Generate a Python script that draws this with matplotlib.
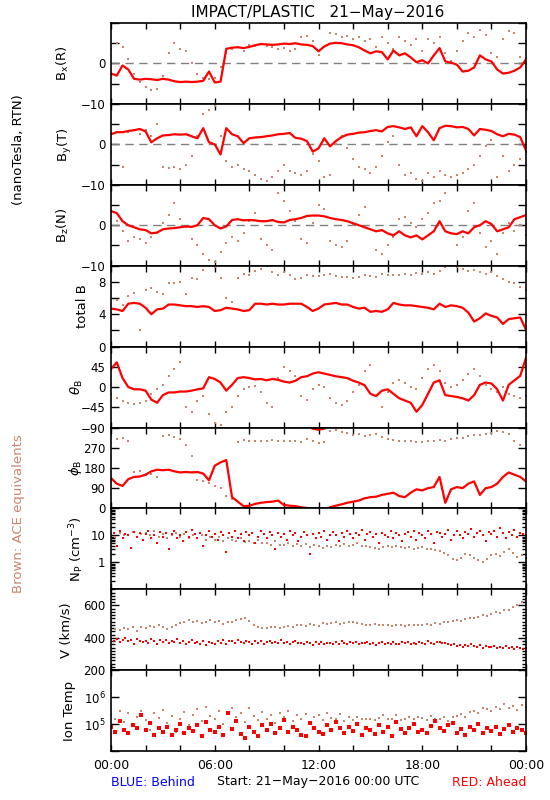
import matplotlib

matplotlib.use('Agg')
import matplotlib.pyplot as plt
import numpy as np
from matplotlib.ticker import (FixedLocator, FixedFormatter, MultipleLocator,
                               LogLocator, NullFormatter, NullLocator)

plt.rcParams['font.family'] = ['DejaVu Sans']

RED = '#FF0000'
BROWN = '#C8866C'

# ---- magnetic field, 20-minute samples (hours 0..24) ----
bx_red = [-2.5, -3.0, -0.5, -1.5, -3.8, -4.0, -3.8, -3.9, -4.1, -3.8, -4.0, -4.4,
          -4.6, -4.5, -4.6, -4.5, -4.3, -2.0, -4.7, -4.5, 3.6, 3.9, 4.0, 3.8,
          4.1, 4.5, 4.8, 4.7, 4.6, 4.7, 4.9, 4.8, 5.0, 4.7, 4.6, 4.3,
          3.0, 4.2, 4.9, 5.1, 5.0, 4.7, 4.5, 4.0, 3.2, 2.5, 3.0, 2.8,
          1.0, 3.2, 2.0, 2.5, 1.5, 0.3, 0.8, 0.0, 2.0, 3.8, 0.5, 0.2,
          -0.3, -2.0, -1.8, -1.0, 2.0, 1.0, 0.5, -1.5, -2.5, -2.3, -1.8, -1.0,
          1.0]
bx_ace = [3.5, 5.0, 4.0, 1.0, -2.5, -4.5, -5.8, -6.5, -6.2, -3.0, 2.5, 5.0,
          3.5, 3.0, 0.0, -2.5, -3.5, -3.8, -3.5, -1.0, 2.5, 3.5, 4.0, 3.0,
          4.5, 4.2, 4.8, 4.4, 4.0, 3.5, 3.8, 3.2, 3.5, 6.5, 6.8, 5.5,
          2.0, 4.0, 7.5, 7.2, 6.5, 6.8, 6.0, 6.5, 5.5, 6.0, 4.0, 6.5,
          5.0, 3.5, 6.5, 5.5, 4.5, 6.0, 3.0, 6.0, 5.0, 6.5, 2.5, 0.5,
          3.0, 5.5, 7.5, 6.5, 8.3, 7.0, 2.5, 1.5, 6.0, 8.0, 7.5, 1.5,
          5.5]

by_red = [2.5, 3.0, 3.0, 3.3, 3.5, 3.8, 3.2, 0.5, 1.5, 2.2, 2.3, 2.5,
          2.4, 2.5, 2.0, 1.5, 4.0, 0.5, 0.0, -2.5, 4.0, 2.5, 2.0, 0.3,
          1.5, 1.7, 1.8, 2.0, 2.2, 2.5, 2.6, 2.8, 1.6, 1.4, 0.8, -1.8,
          -1.0, 1.5, -0.5, 0.8, 1.8, 2.4, 2.6, 2.9, 3.0, 3.3, 3.5, 3.2,
          4.3, 4.5, 4.2, 3.8, 4.2, 2.0, 4.5, 3.0, 1.0, 4.0, 4.6, 4.5,
          4.2, 4.3, 3.8, 2.2, 3.8, 3.6, 3.3, 2.5, 2.0, 2.6, 2.4, 1.8,
          -1.5]
by_ace = [-2.0, 3.0, -5.5, 3.0, 3.5, 2.5, 3.5, 2.0, 5.0, -5.5, -5.8, -5.5,
          -6.0, -5.0, -3.0, 2.0, 7.5, 8.5, 9.5, 2.0, -4.0, -5.5, -5.0, -6.0,
          -6.5, -7.5, -8.5, -9.0, -8.0, -6.5, -5.0, -6.5, -7.0, -7.5, -6.5, -2.5,
          -4.0, -8.0, -7.5, 0.0, 2.0, -1.0, -3.5, -5.5, -6.0, -7.0, -5.5, -3.0,
          0.5, 2.0, -5.0, -7.5, -7.0, -8.5, -9.0, -7.0, -8.0, -6.5, -7.5, -8.0,
          -7.5, -7.0, -6.0, -5.0, -3.0, -0.5, 1.0, -8.0, -3.0, -6.5, -5.0, -3.5,
          -2.0]

bz_red = [3.5, 3.0, 1.0, 0.0, -0.5, -1.0, -1.2, -2.0, -1.8, -1.0, -0.8, -0.7,
          -0.5, -0.3, -0.4, 0.0, 1.8, 1.5, 0.0, -0.8, -0.3, 1.3, 1.5, 1.2,
          1.3, 1.2, 1.0, 1.0, 1.3, 0.8, 0.7, 1.3, 1.5, 1.8, 2.3, 2.4,
          2.4, 2.2, 1.8, 1.5, 1.3, 1.0, 0.5, 0.0, -0.5, -1.0, -1.5, -1.2,
          -2.0, -2.5, -1.5, -2.5, -3.0, -2.5, -3.5, -2.5, -1.5, 1.0, -1.5, -2.0,
          -2.2, -1.5, -2.0, -0.5, 0.0, 1.0, 0.3, -1.5, -1.0, -0.5, 1.5, 2.0,
          2.5]
bz_ace = [-1.0, 1.0, -1.5, -4.0, -3.0, -3.5, -4.5, -3.0, -2.0, 0.5, 2.5, 5.5,
          1.5, -0.5, -3.5, -5.0, -7.0, -8.5, -9.0, -6.5, -4.5, -3.0, -4.0, -2.0,
          1.0, 3.0, -3.5, -5.0, -6.0, 8.0, 6.0, 3.5, 1.0, -3.5, -4.5, 0.5,
          5.0, 4.0, -4.0, -5.0, -5.5, -4.0, 0.0, 2.5, 4.5, -1.0, -6.0, -7.0,
          -5.0, -3.0, 1.5, 2.0, 0.5, -0.5, 1.5, 3.0, 5.5, 6.0, 8.0, -2.0,
          -5.0, -3.0, 3.5, 5.5, -2.0, -5.5, -4.0, -7.0, -2.0, 0.5, -1.5, 0.0,
          -2.5]

bt_red = [4.7, 4.6, 4.4, 5.3, 5.4, 5.3, 4.8, 4.0, 4.6, 4.7, 5.2, 5.2,
          5.1, 5.0, 5.0, 4.9, 5.0, 4.9, 4.4, 4.5, 4.8, 4.7, 4.6, 4.4,
          4.5, 5.3, 5.3, 5.2, 5.3, 5.2, 5.2, 5.3, 5.3, 5.3, 4.9, 4.4,
          4.7, 5.2, 5.3, 5.4, 5.2, 5.2, 4.9, 4.7, 4.8, 4.3, 4.4, 4.3,
          4.6, 5.4, 5.2, 5.1, 5.1, 5.0, 4.9, 4.8, 4.6, 5.3, 4.9, 5.1,
          5.0, 4.8, 4.2, 3.1, 3.5, 4.1, 3.8, 3.6, 2.8, 3.4, 3.5, 3.6,
          2.1]
bt_ace = [4.2, 5.8, 5.2, 6.2, 6.6, 2.0, 7.0, 7.2, 6.8, 6.5, 7.8, 7.8,
          8.0, 6.5, 8.5, 8.4, 9.5, 10.2, 9.8, 8.5, 6.0, 5.5, 8.5, 9.0,
          8.8, 9.3, 9.6, 10.0, 9.2, 8.9, 9.2, 8.8, 8.4, 8.5, 8.9, 8.7,
          8.7, 8.9, 9.0, 8.7, 8.6, 8.6, 8.5, 8.6, 8.8, 8.7, 8.6, 9.0,
          8.8, 8.9, 8.8, 9.0, 8.8, 9.1, 9.0, 9.2, 9.0, 9.4, 9.8, 10.0,
          9.8, 9.6, 9.3, 9.5, 9.2, 9.0, 9.2, 8.7, 8.3, 8.0, 7.9, 7.4,
          7.0]

theta_red = [40, 55, 20, 0, -5, -5, -8, -28, -35, -18, -12, -12,
             -10, -10, -8, -5, -3, 22, 18, 10, -8, 5, 20, 22,
             20, 17, 18, 15, 18, 16, 12, 10, 14, 22, 24, 30,
             33, 30, 27, 24, 22, 20, 14, 10, 4, -15, -20, -8,
             -5, -15, -25, -30, -35, -55, -40, -15, 10, 15, -18, -20,
             -22, -25, -30, -18, 5, 10, 8, -5, -30, 5, 15, 25,
             65]
theta_ace = [-15, -25, -30, -35, -38, -35, -30, -15, -5, 5, 25, 40,
             55, -45, -55, -30, -20, -60, -80, -85, -55, -45, -20, -5,
             0, 2, -10, -35, -45, 20, 45, 35, 25, -20, -28, -5,
             5, 0, -25, -35, -40, -30, -10, 5, 35, 48, -20, -45,
             -10, 10, 15, 8, 0, -5, 20, 40, 50, 35, 10, 0,
             5, 15, 30, 40, 25, 5, -5, -10, 0, -15, -20, -25,
             -20]

phi_red = [135, 110, 100, 130, 140, 142, 150, 165, 172, 170, 172, 165,
           160, 162, 160, 162, 155, 125, 190, 205, 215, 50, 30, 10,
           12, 20, 25, 28, 30, 35, 15, 12, 10, 5, 2, 355,
           350, 355, 5, 12, 18, 25, 30, 35, 45, 50, 52, 60,
           65, 70, 55, 50, 70, 85, 80, 90, 95, 140, 25, 85,
           95, 90, 110, 120, 60, 90, 95, 110, 140, 160, 150, 140,
           120]
phi_ace = [320, 310, 315, 300, 160, 165, 150, 155, 140, 320, 325, 318,
           310, 280, 235, 125, 120, 115, 100, 90, 55, 40, 295, 305,
           298, 300, 302, 298, 305, 300, 298, 302, 300, 295, 310, 300,
           292, 295, 345, 350, 340, 335, 325, 330, 320, 325, 330, 318,
           310, 305, 300, 298, 302, 295, 296, 300, 298, 305, 300, 310,
           312, 315, 320, 325, 328, 330, 335, 345, 340, 330, 300, 280,
           330]

# ---- plasma ----
# proton density, STEREO-A 10-minute samples
np_red = [9, 12, 4, 14, 8, 11, 10, 3.5, 13, 9, 12, 7,
          11, 15, 8, 10, 5, 13, 9, 12, 3, 11, 14, 8,
          10, 6, 13, 9, 16, 11, 8, 12, 4, 10, 14, 9,
          11, 7, 13, 10, 2.5, 12, 9, 15, 8, 11, 6, 13,
          10, 12, 5, 9, 14, 11, 8, 13, 10, 3, 12, 9,
          11, 7, 14, 10, 12, 6, 9, 13, 10, 2, 11, 8,
          12, 9, 15, 7, 10, 13, 10, 6, 12, 9, 14, 11,
          8, 12, 10, 16, 7, 11, 13, 9, 11, 5, 12, 10,
          9, 14, 8, 12, 10, 6, 11, 13, 9, 15, 7, 12,
          10, 8, 14, 11, 5, 13, 12, 9, 11, 16, 7, 10,
          14, 10, 8, 13, 11, 17, 9, 12, 15, 10, 6, 13,
          11, 14, 9, 18, 12, 8, 13, 10, 16, 9, 12, 11,
          10]
# ACE density, 15-minute samples
np_ace = [11, 9, 12, 10, 10, 13, 9, 11, 12, 10, 14, 9,
          11, 8, 10, 12, 9, 11, 8, 10, 8, 10, 7, 9,
          7, 9, 6, 8, 7, 6, 8, 5.5, 6, 5, 7, 5,
          5, 4.5, 6, 4.5, 4.5, 5, 4, 4.8, 4.2, 4.8, 3.8, 4.5,
          4, 3.5, 4.2, 3.8, 4.5, 4, 4.8, 4.2, 4.5, 5, 4, 4.2,
          3.8, 3.5, 3.2, 3.8, 4, 3.6, 4.2, 3.8, 3.5, 3.8, 3.2, 3.4,
          3.6, 3.2, 3, 2.8, 2.6, 2.3, 1.8, 1.3, 1.2, 1.5, 2.0, 1.9,
          1.5, 1.2, 1.0, 1.3, 1.8, 2.0, 1.7, 2.5, 3.0, 2.2, 1.6, 1.8,
          1.5]

v_red = [395, 380, 390, 372, 385, 398, 378, 388, 365, 392, 380, 375,
         383, 370, 395, 378, 362, 385, 375, 388, 368, 380, 372, 390,
         370, 382, 360, 376, 385, 368, 372, 364, 380, 355, 375, 368,
         360, 378, 370, 385, 365, 380, 382, 370, 388, 375, 368, 380,
         376, 365, 383, 370, 378, 362, 372, 380, 366, 375, 370, 384,
         368, 376, 360, 372, 380, 366, 370, 362, 375, 368, 355, 372,
         365, 374, 360, 370, 368, 362, 372, 365, 378, 370, 362, 375,
         368, 374, 362, 370, 366, 372, 364, 370, 358, 368, 374, 362,
         370, 362, 375, 365, 360, 372, 366, 372, 360, 368, 364, 375,
         370, 365, 378, 368, 360, 372, 375, 366, 370, 360, 355, 362,
         350, 358, 345, 355, 348, 360, 352, 345, 358, 340, 350, 346,
         342, 350, 338, 346, 335, 348, 340, 345, 332, 342, 336, 330,
         338]
v_ace = [440, 455, 448, 460, 452, 465, 445, 470, 460, 475, 465, 480,
         470, 455, 468, 478, 490, 500, 510, 495, 505, 490, 500, 512,
         498, 505, 485, 495, 500, 510, 515, 522, 505, 480, 470, 460,
         458, 465, 470, 462, 468, 475, 470, 480, 478, 472, 485, 480,
         475, 490, 485, 492, 495, 488, 492, 498, 495, 490, 485, 482,
         480, 485, 482, 478, 480, 476, 482, 478, 475, 480, 478, 482,
         480, 485, 478, 490, 488, 495, 500, 505, 510, 505, 515, 520,
         525, 530, 540, 535, 548, 560, 555, 570, 575, 590, 600, 620,
         640]

temp_red = [8e4, 5e4, 1.3e5, 6e4, 4.5e4, 9e4, 7e4, 2.2e5, 6e4, 1.1e5, 4e4, 7e4,
            5e4, 8e4, 3.8e4, 6e4, 1.0e5, 4.5e4, 7e4, 5.5e4, 9e4, 3.5e4, 1.2e5, 6e4,
            5e4, 8e4, 4e4, 2.5e5, 6.5e4, 1.3e5, 4.2e4, 3e4, 8e4, 5e4, 3.5e4, 9e4,
            6e4, 1.0e5, 4.5e4, 7e4, 1.4e5, 5e4, 8e4, 6e4, 4e4, 3.5e4, 1.1e5, 7e4,
            5e4, 4.2e4, 9e4, 6e4, 1.2e5, 7e4, 4.5e4, 8e4, 5.5e4, 1.0e5, 3.8e4, 7e4,
            6e4, 4.2e4, 9e4, 5e4, 8e4, 3.6e4, 1.2e5, 6.5e4, 4.5e4, 7e4, 1.0e5, 5e4,
            6e4, 4.8e4, 8.5e4, 1.3e5, 7e4, 5.5e4, 9e4, 1.1e5, 4.5e4, 6.5e4, 3.8e4, 8e4,
            6e4, 1.0e5, 4.8e4, 7e4, 5.5e4, 8e4, 4.2e4, 6.5e4, 9e4, 5e4, 7e4, 6e4,
            4.5e4]
temp_ace = [2.2e5, 1.5e5, 3e5, 1.2e5, 2.5e5, 9e4, 1.8e5, 3.2e5, 1.4e5, 6e4, 2.6e5, 1.7e5,
            3.4e5, 1.1e5, 2e5, 5e4, 1.6e5, 2.8e5, 9e4, 2.2e5, 3.5e5, 1.3e5, 4.5e5, 2e5,
            1.5e5, 3e5, 1e5, 2.4e5, 3.8e5, 1.8e5, 2.6e5, 1.2e5, 4e5, 2e5, 1.4e5, 2.8e5,
            1.6e5, 2.2e5, 1.1e5, 2.5e5, 1.8e5, 3e5, 1.3e5, 2.1e5, 1.5e5, 2.4e5, 1.2e5, 1.9e5,
            2.2e5, 1.4e5, 2.6e5, 1.7e5, 1.6e5, 2.3e5, 1.3e5, 1.9e5, 1.4e5, 1.8e5, 1.5e5, 1.6e5,
            1.5e5, 1.4e5, 1.7e5, 2.2e5, 1.6e5, 1.5e5, 2.1e5, 1.4e5, 1.5e5, 1.8e5, 1.6e5, 1.9e5,
            1.7e5, 1.4e5, 2e5, 1.6e5, 1.5e5, 1.8e5, 1.3e5, 1.9e5, 2e5, 2.4e5, 1.8e5, 2.8e5,
            3.2e5, 2.6e5, 4e5, 3.5e5, 3e5, 4.5e5, 3.6e5, 5.5e5, 3.8e5, 4.8e5, 3.3e5, 5e5,
            4.2e5]

time_labels = ['00:00', '06:00', '12:00', '18:00', '00:00']


def hours(series):
    """Sample times (hours) for an evenly sampled day-long series"""
    return np.linspace(0, 24, len(series))


def break_wrap(t, v):
    """Break the line where the angle wraps around"""
    t = np.asarray(t, float)
    v = np.asarray(v, float)
    idx = np.where(np.abs(np.diff(v)) > 180)[0] + 1
    return np.insert(t, idx, np.nan), np.insert(v, idx, np.nan)


fig = plt.figure(figsize=(5.5, 8), dpi=100)

left = 111 / 550
width = 415 / 550
top_px = 23
panel_px = 80.9
axes = []
for i in range(9):
    bottom = 1 - (top_px + (i + 1) * panel_px) / 800
    ax = fig.add_axes([left, bottom, width, panel_px / 800])
    ax.set_xlim(0, 24)
    ax.xaxis.set_major_locator(MultipleLocator(6))
    ax.xaxis.set_minor_locator(MultipleLocator(2))
    ax.tick_params(axis='both', which='both', direction='in', top=True, right=True,
                   labelsize=8.5, width=1.0, pad=4)
    ax.tick_params(axis='x', which='both', length=4)
    ax.tick_params(axis='y', which='major', length=6)
    ax.tick_params(axis='y', which='minor', length=3)
    for sp in ax.spines.values():
        sp.set_linewidth(1.2)
    if i < 8:
        ax.set_xticklabels([])
    axes.append(ax)


def lin_ticks(ax, lo, hi, ticks, labels):
    ax.set_ylim(lo, hi)
    ax.yaxis.set_major_locator(FixedLocator(ticks))
    ax.yaxis.set_major_formatter(FixedFormatter(labels))


DOT = dict(color=BROWN, markersize=1.9, markeredgewidth=0, linestyle='none', marker='s')

# B components
for ax, red, ace in zip(axes[:3], [bx_red, by_red, bz_red], [bx_ace, by_ace, bz_ace]):
    ax.axhline(0, color='#808080', linestyle=(0, (6, 4)), linewidth=1.0)
    ax.plot(hours(ace), ace, **DOT)
    ax.plot(hours(red), red, '-', color=RED, linewidth=1.6)
    lin_ticks(ax, -10, 10, [-10, -5, 0, 5, 10], ['\u221210', '', '0', '', ''])

# total B
ax = axes[3]
ax.plot(hours(bt_ace), bt_ace, **DOT)
ax.plot(hours(bt_red), bt_red, '-', color=RED, linewidth=1.6)
lin_ticks(ax, 0, 10, [0, 2, 4, 6, 8, 10], ['0', '', '4', '', '8', ''])

# theta
ax = axes[4]
ax.plot(hours(theta_ace), theta_ace, **DOT)
ax.plot(hours(theta_red), theta_red, '-', color=RED, linewidth=1.6)
lin_ticks(ax, -90, 90, [-90, -45, 0, 45, 90], ['\u221290', '\u221245', '0', '45', ''])

# phi
ax = axes[5]
ax.plot(hours(phi_ace), phi_ace, **DOT)
tt, pp = break_wrap(hours(phi_red), phi_red)
ax.plot(tt, pp, '-', color=RED, linewidth=1.6)
lin_ticks(ax, 0, 360, [0, 90, 180, 270, 360], ['0', '90', '180', '270', ''])

# density
ax = axes[6]
ax.plot(hours(np_ace), np_ace, **DOT)
ax.plot(hours(np_red), np_red, 's', color=RED, markersize=1.8, markeredgewidth=0)
ax.set_yscale('log')
ax.set_ylim(0.1, 100)
ax.yaxis.set_major_locator(FixedLocator([0.1, 1, 10, 100]))
ax.yaxis.set_major_formatter(FixedFormatter(['', '1', '10', '']))
ax.yaxis.set_minor_locator(LogLocator(base=10, subs=np.arange(2, 10)))
ax.yaxis.set_minor_formatter(NullFormatter())

# speed
ax = axes[7]
ax.plot(hours(v_ace), v_ace, **DOT)
ax.plot(hours(v_red), v_red, 's', color=RED, markersize=1.8, markeredgewidth=0)
lin_ticks(ax, 200, 700, [200, 400, 600], ['200', '400', '600'])
ax.yaxis.set_minor_locator(MultipleLocator(20))

# temperature
ax = axes[8]
ax.plot(hours(temp_ace), temp_ace, **DOT)
ax.plot(hours(temp_red), temp_red, 's', color=RED, markersize=2.2, markeredgewidth=0)
ax.set_yscale('log')
ax.set_ylim(1e4, 1e7)
ax.yaxis.set_major_locator(FixedLocator([1e4, 1e5, 1e6, 1e7]))
ax.yaxis.set_major_formatter(FixedFormatter(['', r'10$^5$', r'10$^6$', '']))
ax.yaxis.set_minor_locator(NullLocator())
ax.set_xticks([0, 6, 12, 18, 24])
ax.set_xticklabels(time_labels, fontsize=9)
ax.tick_params(axis='x', pad=6)

# panel labels
ylabels = [r'B$_{\rm x}$(R)', r'B$_{\rm y}$(T)', r'B$_{\rm z}$(N)', 'total B',
           r'$\theta_{\rm B}$', r'$\phi_{\rm B}$', r'N$_{\rm P}$ (cm$^{-3}$)',
           'V (km/s)', 'Ion Temp']
label_x = [63, 65, 63, 83, 77, 75, 77, 66, 70]
for i, (lab, lx) in enumerate(zip(ylabels, label_x)):
    yc = 1 - (top_px + (i + 0.5) * panel_px) / 800
    fig.text(lx / 550, yc, lab, rotation=90, ha='center', va='center', fontsize=9.5)

fig.text(19 / 550, 1 - 150 / 800, '(nanoTesla, RTN)', rotation=90,
         ha='center', va='center', fontsize=9.5)
fig.text(19 / 550, 1 - 514 / 800, 'Brown: ACE equivalents', rotation=90,
         ha='center', va='center', fontsize=9.5, color=BROWN)

fig.text(318 / 550, 1 - 12 / 800, 'IMPACT/PLASTIC   21\u2212May\u22122016',
         ha='center', va='center', fontsize=11)
fig.text(111 / 550, 1 - 783 / 800, 'BLUE: Behind', color='#0000FF',
         ha='left', va='center', fontsize=9)
fig.text(318 / 550, 1 - 782 / 800, 'Start: 21\u2212May\u22122016 00:00 UTC',
         ha='center', va='center', fontsize=9)
fig.text(526 / 550, 1 - 783 / 800, 'RED: Ahead', color=RED,
         ha='right', va='center', fontsize=9)

plt.savefig('out.png', dpi=100)
plt.close()
